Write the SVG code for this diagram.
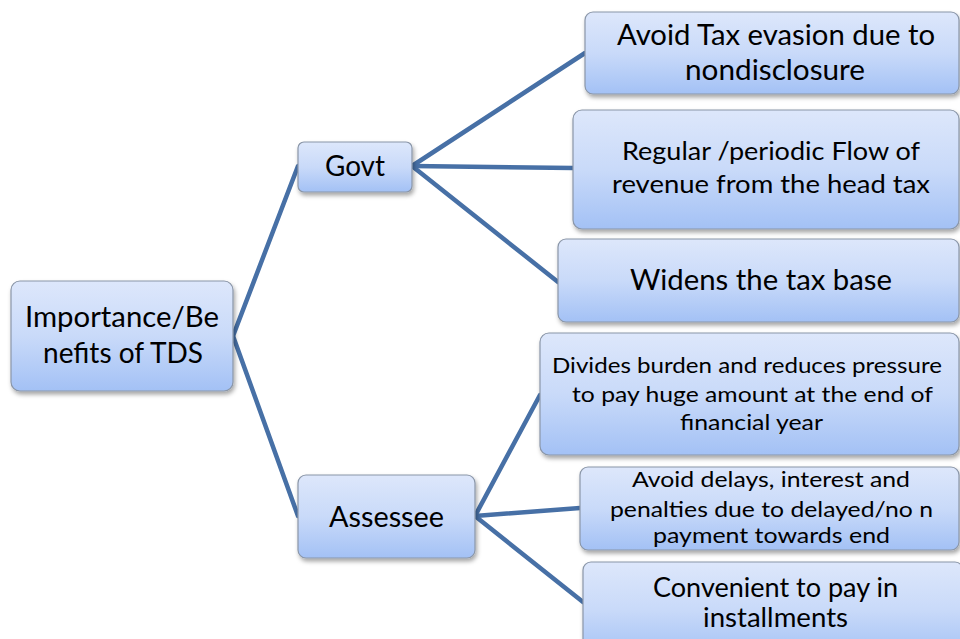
<svg xmlns="http://www.w3.org/2000/svg" width="960" height="639" viewBox="0 0 960 639">
<style>
.box{fill:url(#g);stroke:#8a96a8;stroke-width:1.2;filter:url(#sh)}
text{font-family:Lato,"Liberation Sans",sans-serif;fill:#000;text-anchor:middle}
.conn line{stroke:#4770a6;stroke-width:4.5;stroke-linecap:round}
</style>
<defs>
<linearGradient id="g" x1="0" y1="0" x2="0" y2="1">
<stop offset="0" stop-color="#dde7fb"/>
<stop offset="0.5" stop-color="#c9daf9"/>
<stop offset="1" stop-color="#a3c1f5"/>
</linearGradient>
<filter id="sh" x="-10%" y="-10%" width="120%" height="130%">
<feDropShadow dx="1.5" dy="3" stdDeviation="2" flood-color="#000" flood-opacity="0.35"/>
</filter>
</defs>
<rect width="960" height="639" fill="#fff"/>
<g class="conn" id="connectors">
<line x1="233" y1="336" x2="298" y2="166"/>
<line x1="233" y1="336" x2="298" y2="516"/>
<line x1="412" y1="166" x2="585" y2="53"/>
<line x1="412" y1="166" x2="573" y2="168"/>
<line x1="412" y1="166" x2="558" y2="282"/>
<line x1="475" y1="516" x2="540" y2="395"/>
<line x1="475" y1="516" x2="580" y2="508"/>
<line x1="475" y1="516" x2="583" y2="602"/>
</g>
<g id="root">
<rect class="box" x="11" y="281" width="222" height="110" rx="9"/>
<text font-size="28"><tspan x="122" y="327" textLength="194" lengthAdjust="spacingAndGlyphs">Importance/Be</tspan><tspan x="123" y="363" textLength="160" lengthAdjust="spacingAndGlyphs">nefits of TDS</tspan></text>
</g>
<g id="govt">
<rect class="box" x="298" y="142" width="114" height="50" rx="6"/>
<text font-size="28" x="355" y="176" textLength="60" lengthAdjust="spacingAndGlyphs">Govt</text>
</g>
<g id="assessee">
<rect class="box" x="298" y="475" width="177" height="83" rx="8"/>
<text font-size="28" x="386.5" y="527" textLength="115" lengthAdjust="spacingAndGlyphs">Assessee</text>
</g>
<g id="n1">
<rect class="box" x="585" y="12" width="374" height="82" rx="8"/>
<text font-size="28"><tspan x="776" y="45" textLength="318" lengthAdjust="spacingAndGlyphs">Avoid Tax evasion due to</tspan><tspan x="775" y="80" textLength="180" lengthAdjust="spacingAndGlyphs">nondisclosure</tspan></text>
</g>
<g id="n2">
<rect class="box" x="573" y="110" width="386" height="119" rx="9"/>
<text font-size="25"><tspan x="771" y="160" textLength="298" lengthAdjust="spacingAndGlyphs">Regular /periodic Flow of</tspan><tspan x="771" y="193" textLength="318" lengthAdjust="spacingAndGlyphs">revenue from the head tax</tspan></text>
</g>
<g id="n3">
<rect class="box" x="558" y="239" width="401" height="83" rx="8"/>
<text font-size="28" x="761" y="290" textLength="262" lengthAdjust="spacingAndGlyphs">Widens the tax base</text>
</g>
<g id="n4">
<rect class="box" x="540" y="333" width="419" height="122" rx="9"/>
<text font-size="22"><tspan x="747" y="373" textLength="390" lengthAdjust="spacingAndGlyphs">Divides burden and reduces pressure</tspan><tspan x="752.5" y="402" textLength="361" lengthAdjust="spacingAndGlyphs">to pay huge amount at the end of</tspan><tspan x="751.5" y="430" textLength="143" lengthAdjust="spacingAndGlyphs">financial year</tspan></text>
</g>
<g id="n5">
<rect class="box" x="580" y="467" width="379" height="83" rx="8"/>
<text font-size="22"><tspan x="771" y="487" textLength="278" lengthAdjust="spacingAndGlyphs">Avoid delays, interest and</tspan><tspan x="771.5" y="517" textLength="323" lengthAdjust="spacingAndGlyphs">penalties due to delayed/no n</tspan><tspan x="771.5" y="543" textLength="237" lengthAdjust="spacingAndGlyphs">payment towards end</tspan></text>
</g>
<g id="n6">
<rect class="box" x="583" y="562" width="380" height="95" rx="8"/>
<text font-size="26"><tspan x="775.5" y="597" textLength="245" lengthAdjust="spacingAndGlyphs">Convenient to pay in</tspan><tspan x="775.5" y="627" textLength="145" lengthAdjust="spacingAndGlyphs">installments</tspan></text>
</g>
</svg>
